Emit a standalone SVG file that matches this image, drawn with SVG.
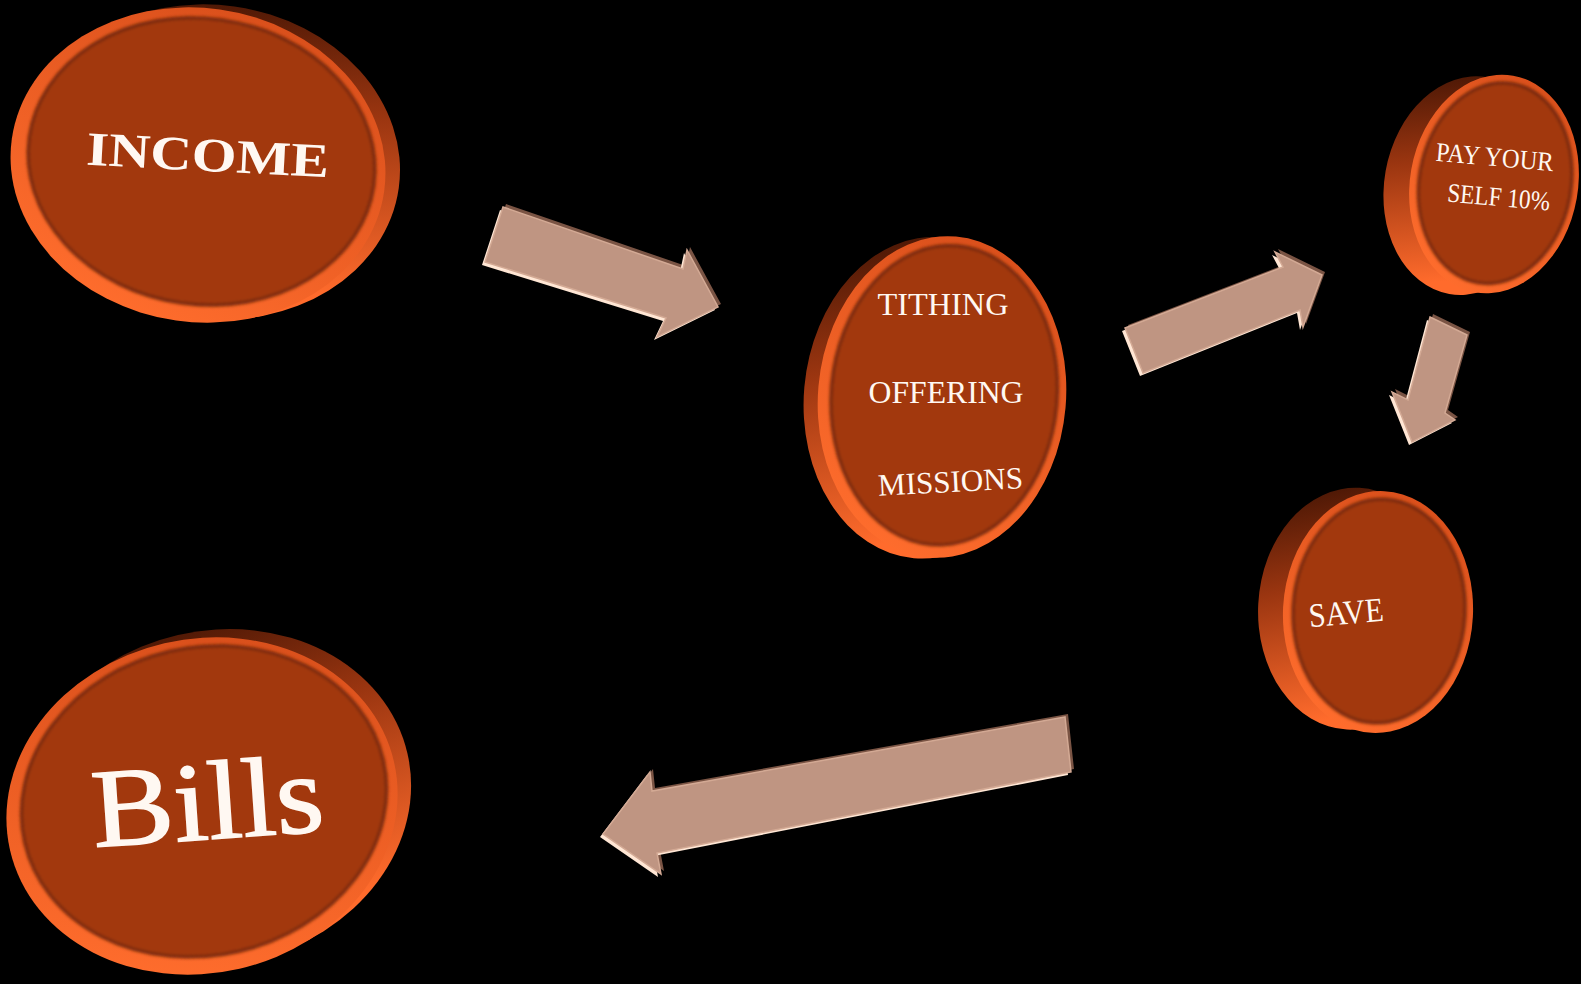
<svg xmlns="http://www.w3.org/2000/svg" width="1581" height="984" viewBox="0 0 1581 984">
<defs>
<style>
.rim{fill:url(#rim)}
.ring{fill:url(#ring)}
.face{fill:#a2390f;stroke:#6e2509;stroke-width:3;filter:url(#soft)}
.lbl{font-family:"Liberation Serif","Times New Roman",serif;fill:#fff8f2}
.ad{fill:#7a5444}
.al{fill:#ffe6d4}
.am{fill:#bf9582;stroke:#d3a994;stroke-width:1.5}
</style>
<linearGradient id="rim" x1="0" y1="0" x2="0.2" y2="1">
<stop offset="0" stop-color="#3e1203"/>
<stop offset="0.45" stop-color="#9a3510"/>
<stop offset="1" stop-color="#ff6b2c"/>
</linearGradient>
<linearGradient id="ring" x1="0.7" y1="0" x2="0.3" y2="1">
<stop offset="0" stop-color="#d94f1b"/>
<stop offset="1" stop-color="#ff6d2d"/>
</linearGradient>
<filter id="soft" x="-5%" y="-5%" width="110%" height="110%"><feGaussianBlur stdDeviation="1.5"/></filter>
<polygon id="a1" points="503,207 683,269 687,250 718,307 657,337 666,318 485,262"/>
<polygon id="a2" points="1125,328 1283,267 1275,252 1322,275 1303,327 1300,310 1143,373"/>
<polygon id="a3" points="1430,317 1467,335 1445,413 1455,420 1412,442 1392,392 1408,400"/>
<polygon id="a4" points="1065,717 652,791 650,772 603,834 661,874 657,853 1071,772"/>
</defs>
<rect width="1581" height="984" fill="#000"/>
<g id="connectors">
<g id="arrow-income-tithing"><use href="#a1" class="ad" transform="translate(3,-3)"/><use href="#a1" class="al" transform="translate(-3,3)"/><use href="#a1" class="am"/></g>
<g id="arrow-tithing-pay"><use href="#a2" class="ad" transform="translate(3,-3)"/><use href="#a2" class="al" transform="translate(-3,3)"/><use href="#a2" class="am"/></g>
<g id="arrow-pay-save"><use href="#a3" class="ad" transform="translate(3,-3)"/><use href="#a3" class="al" transform="translate(-3,3)"/><use href="#a3" class="am"/></g>
<g id="arrow-save-bills"><use href="#a4" class="ad" transform="translate(3,-3)"/><use href="#a4" class="al" transform="translate(-3,3)"/><use href="#a4" class="am"/></g>
</g>
<g id="income">
<g transform="translate(198,165) rotate(8)">
<ellipse class="rim" cx="14" cy="-5" rx="188" ry="157"/>
<ellipse class="ring" rx="188" ry="157"/>
<ellipse class="face" cx="3" cy="-4" rx="174" ry="143"/>
</g>
<text class="lbl" x="207" y="171" text-anchor="middle" font-size="48" font-weight="bold" textLength="243" lengthAdjust="spacingAndGlyphs" transform="rotate(3 207 171)">INCOME</text>
</g>
<g id="tithing">
<g transform="translate(942,397) rotate(5)">
<ellipse class="rim" cx="-14" cy="2" rx="124" ry="161"/>
<ellipse class="ring" rx="124" ry="161"/>
<ellipse class="face" cx="2" cy="-2" rx="113" ry="150"/>
</g>
<text class="lbl" x="943" y="315" text-anchor="middle" font-size="31" textLength="131" lengthAdjust="spacingAndGlyphs">TITHING</text>
<text class="lbl" x="946" y="403" text-anchor="middle" font-size="31" textLength="155" lengthAdjust="spacingAndGlyphs">OFFERING</text>
<text class="lbl" x="951" y="492" text-anchor="middle" font-size="31" textLength="145" lengthAdjust="spacingAndGlyphs" transform="rotate(-3 951 492)">MISSIONS</text>
</g>
<g id="pay-yourself">
<g transform="translate(1494,184) rotate(10)">
<ellipse class="rim" cx="-25" cy="6" rx="84" ry="110"/>
<ellipse class="ring" rx="84" ry="110"/>
<ellipse class="face" cx="1" cy="-1" rx="76" ry="101"/>
</g>
<text class="lbl" x="1494" y="166" text-anchor="middle" font-size="27" textLength="118" lengthAdjust="spacingAndGlyphs" transform="rotate(5 1494 166)">PAY YOUR</text>
<text class="lbl" x="1498" y="206" text-anchor="middle" font-size="27" textLength="103" lengthAdjust="spacingAndGlyphs" transform="rotate(5 1498 206)">SELF 10%</text>
</g>
<g id="save">
<g transform="translate(1378,612) rotate(3)">
<ellipse class="rim" cx="-25" cy="-2" rx="95" ry="121"/>
<ellipse class="ring" rx="95" ry="121"/>
<ellipse class="face" cx="1" cy="-1" rx="86" ry="112"/>
</g>
<text class="lbl" x="1347" y="624" text-anchor="middle" font-size="34" textLength="75" lengthAdjust="spacingAndGlyphs" transform="rotate(-5 1347 624)">SAVE</text>
</g>
<g id="bills">
<g transform="translate(202,806) rotate(-13)">
<ellipse class="rim" cx="15" cy="-5" rx="197" ry="167"/>
<ellipse class="ring" rx="197" ry="167"/>
<ellipse class="face" cx="3" cy="-4" rx="184" ry="154"/>
</g>
<text class="lbl" x="210" y="839" text-anchor="middle" font-size="112" textLength="232" lengthAdjust="spacingAndGlyphs" stroke="#fff8f2" stroke-width="1.5" transform="rotate(-4 210 839)">Bills</text>
</g>
</svg>
